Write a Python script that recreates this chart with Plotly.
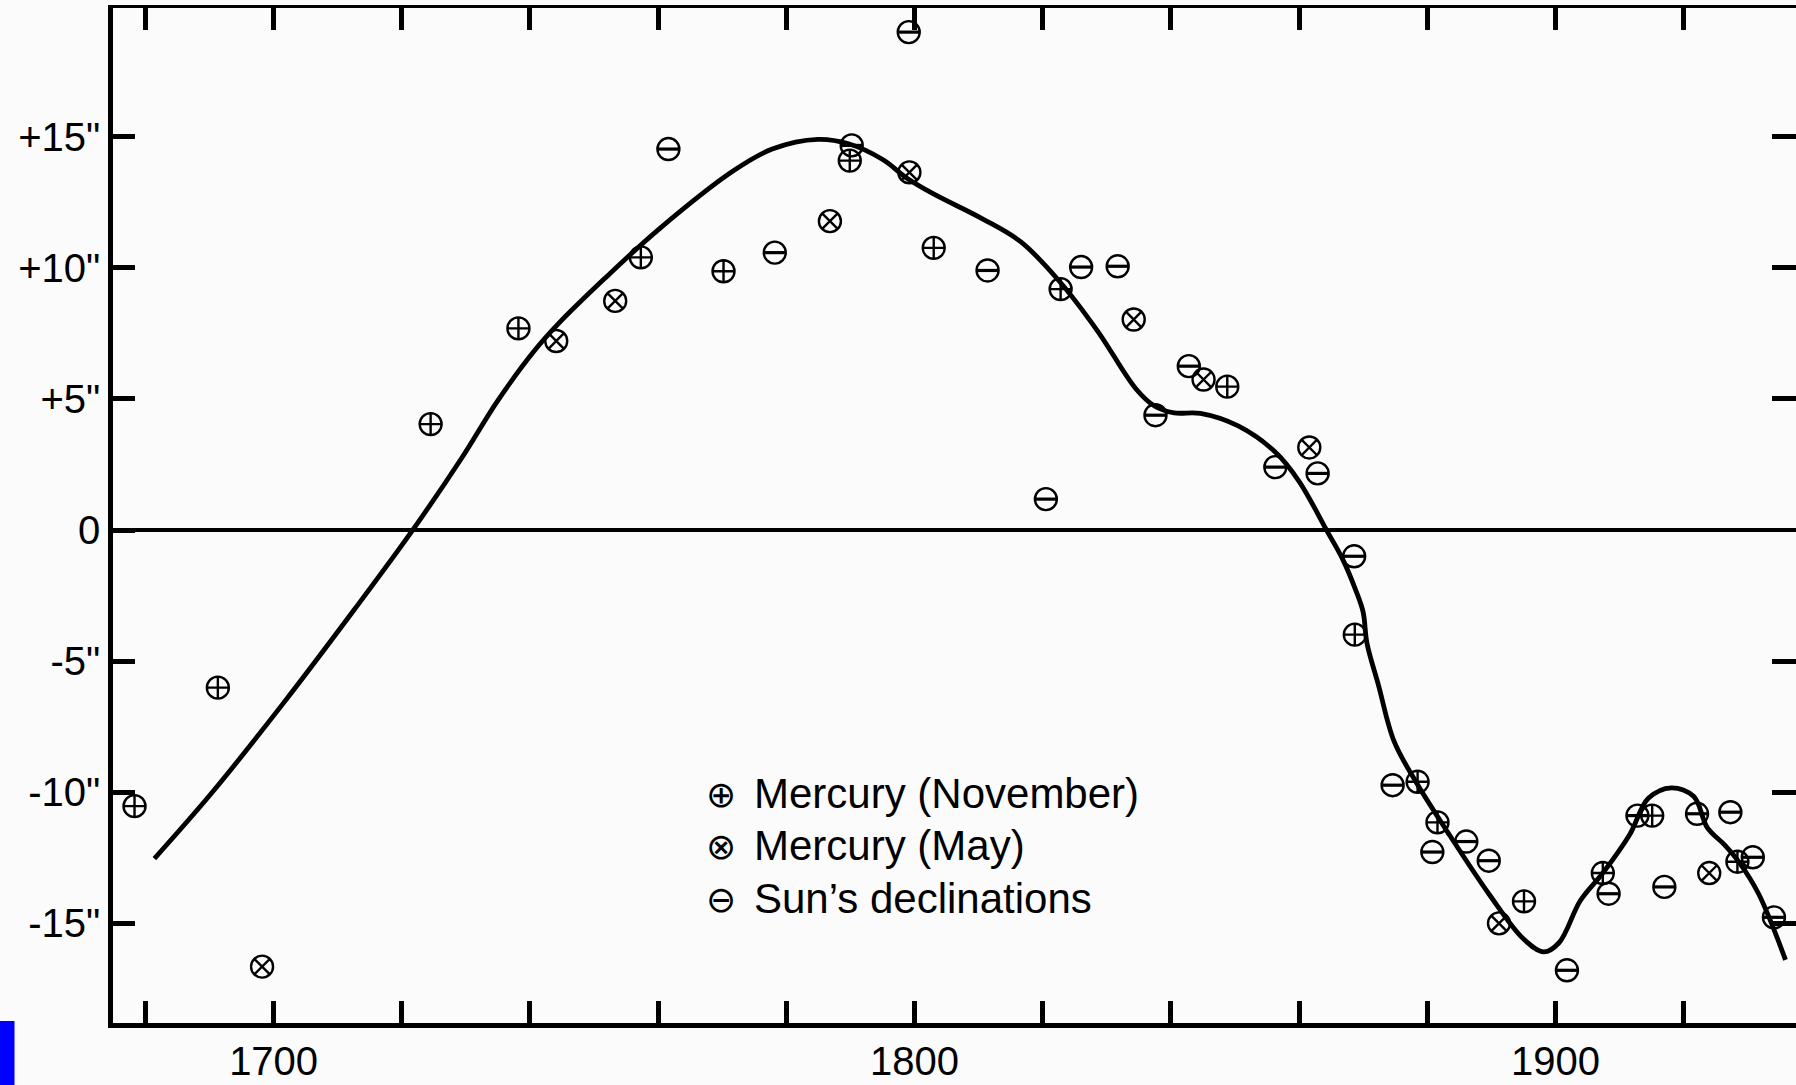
import plotly.graph_objects as go

# ---- data ----
nov_year = [1678.3, 1691.3, 1724.5, 1738.2, 1757.3, 1770.2, 1789.9, 1803.0, 1822.8,
            1848.8, 1868.7, 1878.5, 1881.6, 1895.1, 1907.4, 1915.1, 1928.4]
nov_val = [-10.53, -6.01, 4.04, 7.69, 10.40, 9.87, 14.09, 10.76, 9.19,
           5.47, -3.99, -9.60, -11.15, -14.16, -13.08, -10.89, -12.65]

may_year = [1698.2, 1744.1, 1753.3, 1786.8, 1799.2, 1834.2, 1845.1, 1861.6, 1891.2, 1924.0]
may_val = [-16.65, 7.21, 8.74, 11.78, 13.64, 8.03, 5.74, 3.15, -15.0, -13.08]

sun_year = [1761.6, 1778.2, 1790.2, 1799.1, 1811.4, 1820.5, 1826.0, 1831.7, 1837.6,
            1842.8, 1856.3, 1862.9, 1868.6, 1874.6, 1880.8, 1886.1, 1889.6, 1901.8,
            1908.3, 1912.8, 1917.0, 1922.1, 1927.3, 1930.8, 1934.1]
sun_val = [14.53, 10.58, 14.67, 18.99, 9.90, 1.18, 10.03, 10.06, 4.38,
           6.25, 2.40, 2.16, -1.0, -9.73, -12.28, -11.88, -12.61, -16.79,
           -13.87, -10.89, -13.61, -10.82, -10.76, -12.48, -14.77]

curve_year = [1681.4, 1690.3, 1701.5, 1712.6, 1721.5, 1729.3, 1734.9, 1740.5, 1744.4,
              1751.6, 1760.0, 1771.8, 1777.8, 1784.9, 1789.7, 1795.1, 1798.7, 1802.9,
              1810.6, 1816.6, 1822.6, 1828.6, 1834.5, 1837.5, 1840.5, 1844.6, 1850.5,
              1856.4, 1860.0, 1864.4, 1866.8, 1868.9, 1870.0, 1870.6, 1872.4, 1874.8,
              1878.3, 1883.1, 1889.6, 1895.0, 1898.2, 1900.6, 1903.9, 1907.4, 1911.6,
              1914.5, 1918.1, 1921.6, 1923.7, 1926.4, 1928.7, 1931.7, 1935.9]
curve_val = [-12.53, -10.04, -6.61, -3.03, -0.07, 2.73, 4.91, 6.78, 7.86,
             9.58, 11.45, 13.71, 14.53, 14.90, 14.73, 14.12, 13.44, 12.83,
             11.87, 10.99, 9.49, 7.58, 5.40, 4.72, 4.47, 4.45, 3.97,
             2.95, 1.86, -0.05, -1.11, -2.33, -3.13, -4.32, -5.92, -8.04,
             -9.63, -11.49, -13.87, -15.59, -16.09, -15.73, -14.13, -13.08, -11.61,
             -10.23, -9.83, -10.16, -11.35, -12.01, -12.68, -13.87, -16.39]

x_tick_vals = [1680, 1700, 1720, 1740, 1760, 1780, 1800, 1820, 1840, 1860, 1880, 1900, 1920]
x_tick_text = ["", "1700", "", "", "", "", "1800", "", "", "", "", "1900", ""]
y_tick_vals = [-15, -10, -5, 0, 5, 10, 15]
y_tick_text = ['-15"', '-10"', '-5"', '0', '+5"', '+10"', '+15"']
y_right_ticks = [-15, -10, -5, 5, 10, 15]

legend_labels = ["Mercury (November)", "Mercury (May)", "Sun\u2019s declinations"]
legend_symbols = ["\u2295", "\u2297", "\u2296"]

X_RANGE = [1674.94, 1937.54]
Y_RANGE = [-18.80, 19.91]

FONT = "Liberation Sans, Arial, Helvetica, sans-serif"
BG = "#fbfbfb"
MS = 22

fig = go.Figure()

fig.add_trace(go.Scatter(
    x=curve_year, y=curve_val, mode="lines",
    line=dict(color="black", width=4.8, shape="spline", smoothing=1.0),
    showlegend=False, hoverinfo="skip"))

fig.add_trace(go.Scatter(
    x=nov_year, y=nov_val, mode="markers", name=legend_labels[0],
    marker=dict(symbol="circle-cross-open", size=MS, color="black",
                line=dict(width=2.4, color="black")),
    showlegend=False))

fig.add_trace(go.Scatter(
    x=may_year, y=may_val, mode="markers", name=legend_labels[1],
    marker=dict(symbol="circle-x-open", size=MS, color="black",
                line=dict(width=2.4, color="black")),
    showlegend=False))

fig.add_trace(go.Scatter(
    x=sun_year, y=sun_val, mode="markers", name=legend_labels[2],
    marker=dict(symbol="circle-open", size=MS, color="black",
                line=dict(width=2.4, color="black")),
    showlegend=False))
fig.add_trace(go.Scatter(
    x=sun_year, y=sun_val, mode="markers", name=legend_labels[2],
    marker=dict(symbol="line-ew", size=MS / 1.4, color="black",
                line=dict(width=3.2, color="black")),
    showlegend=False, hoverinfo="skip"))

# helper trace for the mirrored (top / right) axes
fig.add_trace(go.Scatter(x=[None], y=[None], xaxis="x2", yaxis="y2",
                         showlegend=False, hoverinfo="skip"))

W, H = 1796, 1085
ML, MR, MT, MB = 113, 0, 8, 62
PW, PH = W - ML - MR, H - MT - MB

def px(xp):
    return (xp - ML) / PW

def py(yp):
    return (H - MB - yp) / PH

annotations = []
rows_y = [793.5, 845.5, 898.0]
for sym, lab, ry in zip(legend_symbols, legend_labels, rows_y):
    annotations.append(dict(
        xref="paper", yref="paper", x=px(721), y=py(ry + 1),
        xanchor="center", yanchor="middle", showarrow=False,
        text=sym, font=dict(family="DejaVu Sans", size=36, color="black")))
    annotations.append(dict(
        xref="paper", yref="paper", x=px(752), y=py(ry),
        xanchor="left", yanchor="middle", showarrow=False,
        text=lab, font=dict(family=FONT, size=42, color="black")))

axis_common = dict(showgrid=False, color="black", automargin=False)

fig.update_layout(
    template="none",
    width=W, height=H,
    margin=dict(l=ML, r=MR, t=MT, b=MB, pad=0),
    paper_bgcolor=BG, plot_bgcolor=BG,
    font=dict(family=FONT, size=40, color="black"),
    showlegend=False,
    xaxis=dict(range=X_RANGE, autorange=False, tickvals=x_tick_vals, ticktext=x_tick_text,
               ticks="inside", ticklen=22, tickwidth=4.5, tickcolor="black",
               showline=True, linewidth=4.5, linecolor="black", zeroline=False,
               tickfont=dict(size=40, family=FONT), ticklabelstandoff=-1,
               **axis_common),
    xaxis2=dict(range=X_RANGE, autorange=False, overlaying="x", side="top", anchor="y2",
                tickvals=x_tick_vals, showticklabels=False,
                ticks="inside", ticklen=22, tickwidth=4.5, tickcolor="black",
                showline=True, linewidth=3, linecolor="black", zeroline=False,
                **axis_common),
    yaxis=dict(range=Y_RANGE, autorange=False, tickvals=y_tick_vals, ticktext=y_tick_text,
               ticks="inside", ticklen=22, tickwidth=4.5, tickcolor="black",
               showline=True, linewidth=4.5, linecolor="black",
               zeroline=True, zerolinewidth=4, zerolinecolor="black",
               tickfont=dict(size=40, family=FONT), ticklabelstandoff=0,
               **axis_common),
    yaxis2=dict(range=Y_RANGE, autorange=False, overlaying="y", side="right", anchor="x2",
                tickvals=y_right_ticks, showticklabels=False,
                ticks="inside", ticklen=24, tickwidth=4.5, tickcolor="black",
                showline=False, zeroline=False, **axis_common),
    annotations=annotations,
    shapes=[dict(type="rect", xref="paper", yref="paper",
                 x0=px(0), x1=px(14.5), y0=py(1085), y1=py(1021),
                 fillcolor="#0000ff", line=dict(width=0), layer="above")],
)

fig.write_html(
    "out.html",
    config={"displayModeBar": False},
    post_script="document.body.style.margin='0px';document.body.style.overflow='hidden';",
)
